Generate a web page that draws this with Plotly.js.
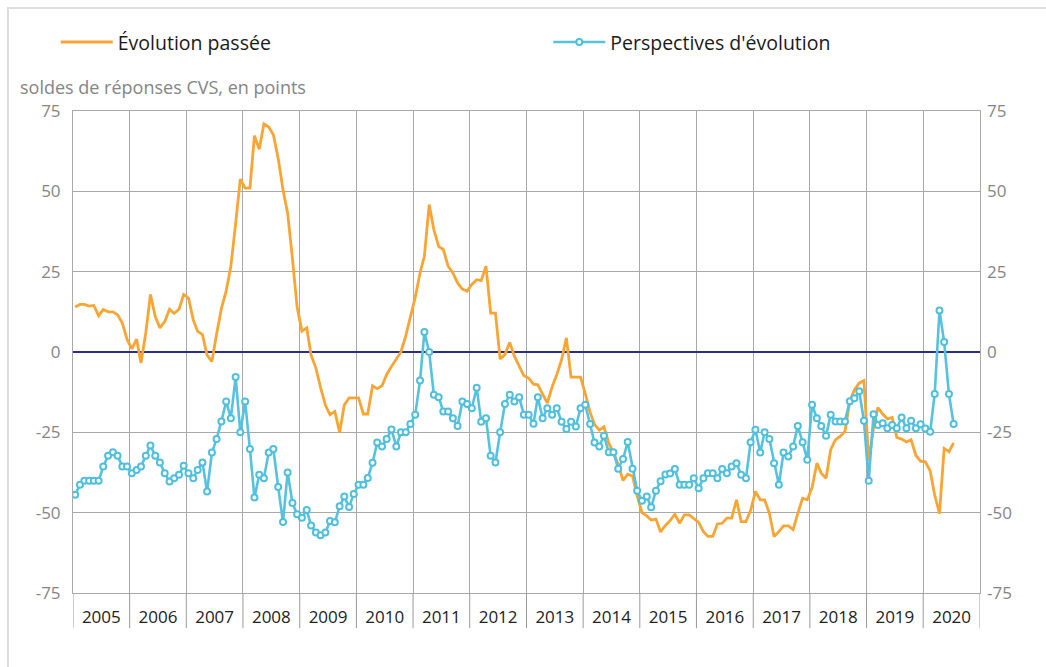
<!DOCTYPE html>
<html><head><meta charset="utf-8">
<script src="https://cdn.plot.ly/plotly-3.0.1.min.js"></script>
<style>html,body{margin:0;padding:0;background:#fff}#chart{width:1046px;height:667px}</style>
</head><body><div id="chart"></div>
<script>
// Monthly series starting January 2005
const startYear = 2005;
const endYear = 2021; // exclusive upper bound of the axis

const evolutionPassee = [
  14, 14.8, 14.8, 14.3, 14.5, 11.3, 13.2, 12.5, 12.5, 11.6, 9, 4,
  1, 4, -3.4, 6, 17.9, 11, 7.5, 9.5, 13.3, 12, 13.3, 17.9,
  16.8, 10, 6.4, 5.4, -1, -3, 5.5, 13.5, 19, 26.6, 40, 53.8,
  51, 51, 67.3, 63.1, 71, 70, 67.6, 60.3, 50.5, 43.2, 29, 14,
  6.5, 7.5, -1, -5, -11, -16.5, -19.5, -18.5, -25, -16.5, -14.3, -14.3,
  -14.3, -19.3, -19.3, -10.5, -11.4, -10.5, -7, -4.5, -2.4, 0, 5, 10.5,
  17, 24.6, 29.8, 45.9, 38.1, 32.9, 31.9, 26.7, 24.6, 21.5, 19.6, 18.9,
  21, 22.5, 22.2, 26.7, 12.1, 12.1, -2.2, -0.8, 3, -1.3, -4.5, -7.4,
  -8.1, -10, -10.2, -13.3, -15.9, -10.9, -7.1, -2.4, 4.4, -7.8, -7.8, -7.8,
  -13, -18.8, -22.5, -24.3, -23.3, -28.4, -31.2, -35, -40, -38, -38.6, -44.8,
  -50, -51, -52.3, -52, -56, -54, -52.5, -50.5, -53.3, -50.7, -50.7, -51.7,
  -53, -55.9, -57.4, -57.4, -53.5, -53.3, -51.7, -51.7, -46, -52.8, -52.8, -49.3,
  -43.4, -46, -46, -50.2, -57.4, -55.9, -54.1, -54.1, -55.3, -50.2, -45.5, -46,
  -42.2, -34.6, -37.7, -39.3, -30.4, -27.3, -26.3, -24.7, -15.4, -11.7, -9.7, -8.9,
  -34, -23.7, -17.3, -19.3, -20.8, -20.4, -26.6, -27.1, -28, -27.3, -32.2, -34,
  -34.2, -37, -44.5, -50.3, -30, -31, -28.3
];

const perspectives = [
  -44.4, -41.3, -40.1, -40.1, -40.1, -40.1, -35.6, -32.3, -31.2, -32.3, -35.6, -35.6,
  -37.7, -36.7, -35.6, -32.3, -29.1, -32.3, -34.4, -37.7, -40.3, -39.3, -38.2, -35.4,
  -37.7, -39.3, -36.7, -34.4, -43.4, -31.3, -27.1, -21.6, -15.4, -20.6, -7.8, -25,
  -15.4, -30.2, -45.3, -38.2, -39.3, -31.3, -30.2, -42, -52.9, -37.5, -47, -50.5,
  -51.6, -49.2, -54, -56.2, -57, -56.2, -52.6, -53, -48, -45, -48.2, -44.2,
  -41.3, -41.3, -39.2, -34.5, -28.2, -29.4, -27.1, -24.1, -29.4, -25, -25, -22.4,
  -19.5, -8.9, 6.2, 0, -13.3, -14.1, -18.5, -18.5, -20.6, -23, -15.4, -16.2,
  -17.5, -11.1, -21.7, -20.6, -32.3, -34.4, -25, -16.2, -13.3, -15.4, -14.1, -19.5,
  -19.5, -22.3, -14.1, -20.6, -17.5, -19.5, -17.5, -21.7, -24, -21.7, -23.2, -17.5,
  -16.4, -22.4, -28.2, -29.4, -26.1, -31.2, -31.2, -36.3, -33.3, -28, -36.3, -43.2,
  -46.3, -45, -48.3, -43.2, -40.2, -38.1, -37.8, -36.4, -41.3, -41.3, -41.3, -39.3,
  -42.4, -39.3, -37.7, -37.7, -39.3, -36.4, -37.7, -35.6, -34.6, -38.2, -39.3, -28.1,
  -24.2, -31.3, -25, -27.1, -34.6, -41.3, -31.3, -32.5, -29.4, -23, -28.1, -33.5,
  -16.4, -20.6, -23, -26.1, -19.5, -21.6, -21.6, -21.6, -15.3, -14.4, -12.2, -21.4,
  -40.1, -19.4, -22.7, -22.2, -23.7, -22.7, -23.7, -20.4, -23.7, -21.4, -23.7, -22.5,
  -23.8, -24.8, -13.1, 12.9, 3.1, -13.1, -22.4
];

const seriesNames = ["Évolution passée", "Perspectives d'évolution"];
const yTickValues = [-75, -50, -25, 0, 25, 50, 75];
const yTickLabels = ["-75", "-50", "-25", "0", "25", "50", "75"];
const unitLabel = "soldes de réponses CVS, en points";

// month dates (mid-month)
function monthDates(n) {
  const out = [];
  for (let i = 0; i < n; i++) {
    const y = startYear + Math.floor(i / 12);
    const m = (i % 12) + 1;
    out.push(y + "-" + String(m).padStart(2, "0") + "-15");
  }
  return out;
}
const dates = monthDates(Math.max(evolutionPassee.length, perspectives.length));

const gridColor = "#a9a9a9";
const font = "Open Sans, Noto Sans, sans-serif";

const traces = [
  {
    x: dates.slice(0, evolutionPassee.length), y: evolutionPassee,
    name: seriesNames[0], type: "scatter", mode: "lines", legend: "legend",
    line: {color: "#f8a534", width: 2.8}, hoverinfo: "skip"
  },
  {
    x: dates.slice(0, perspectives.length), y: perspectives, yaxis: "y2",
    name: seriesNames[1], type: "scatter", mode: "lines+markers", legend: "legend2",
    line: {color: "#56c2df", width: 2.6},
    marker: {symbol: "circle", size: 6, color: "#ffffff", line: {color: "#4fbfdd", width: 2}},
    hoverinfo: "skip"
  }
];

// year separator marks below the axis
const shapes = [];
for (let y = startYear; y <= endYear; y++) {
  shapes.push({type: "line", xref: "x", yref: "paper", x0: y + "-01-01", x1: y + "-01-01",
    y0: 0, y1: -0.073, line: {color: "#9a9a9a", width: 1}});
}
// outer frame
shapes.push({type: "rect", xref: "paper", yref: "paper", x0: -0.0717, x1: 1.08, y0: -0.2, y1: 1.2137,
  line: {color: "#dddddd", width: 2}, fillcolor: "rgba(0,0,0,0)", layer: "below"});

const yCommon = {
  range: [-75, 75], tickmode: "array", tickvals: yTickValues, ticktext: yTickLabels,
  tickfont: {family: font, size: 17, color: "#858585"}, ticks: "", fixedrange: true
};

const legendCommon = {
  orientation: "h", xanchor: "left", y: 1.1425, yanchor: "middle",
  font: {family: font, size: 19.5, color: "#1a1a1a"}, itemwidth: 52, bgcolor: "rgba(0,0,0,0)"
};

const layout = {
  width: 1046, height: 667,
  margin: {l: 73, r: 66, t: 111, b: 74},
  paper_bgcolor: "#ffffff", plot_bgcolor: "#ffffff",
  font: {family: font},
  showlegend: true,
  legend: Object.assign({}, legendCommon, {x: -0.019}),
  legend2: Object.assign({}, legendCommon, {x: 0.524}),
  xaxis: {
    type: "date", range: [startYear + "-01-01", endYear + "-01-01"],
    tick0: startYear + "-01-01", dtick: "M12", tickformat: "%Y", ticklabelmode: "period",
    showgrid: true, gridcolor: gridColor, gridwidth: 1, ticks: "",
    showline: true, linecolor: gridColor, linewidth: 1, mirror: true,
    tickfont: {family: font, size: 17, color: "#222222"}, ticklabelstandoff: 9,
    zeroline: false, fixedrange: true
  },
  yaxis: Object.assign({}, yCommon, {
    showgrid: true, gridcolor: gridColor, gridwidth: 1,
    zeroline: true, zerolinecolor: "#2b2e86", zerolinewidth: 2,
    showline: true, linecolor: gridColor, linewidth: 1, mirror: true,
    ticklabelstandoff: 8
  }),
  yaxis2: Object.assign({}, yCommon, {
    overlaying: "y", side: "right", showgrid: false, zeroline: false, showline: false,
    ticklabelstandoff: 6
  }),
  shapes: shapes,
  annotations: [{
    text: unitLabel, xref: "paper", yref: "paper", x: -0.0606, y: 1.05,
    xanchor: "left", yanchor: "middle", showarrow: false,
    font: {family: font, size: 18, color: "#858585"}
  }]
};

Plotly.newPlot("chart", traces, layout, {displayModeBar: false, staticPlot: true});
</script></body></html>
